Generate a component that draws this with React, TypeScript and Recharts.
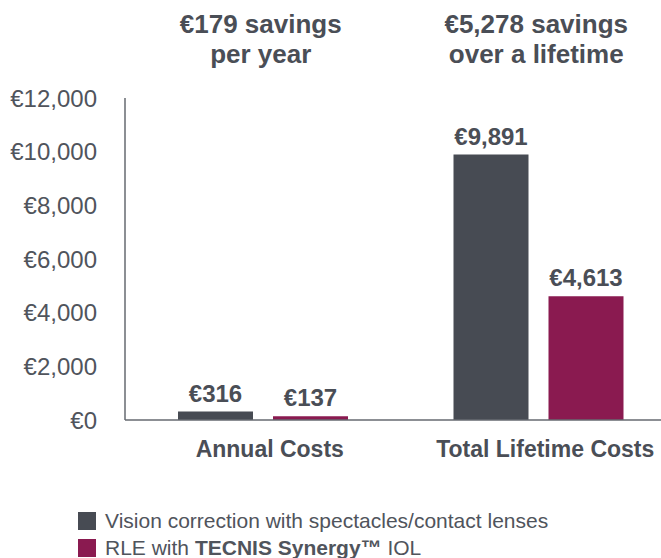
import { BarChart, Bar, XAxis, YAxis, LabelList } from "recharts";

const categories = ["Annual Costs", "Total Lifetime Costs"];
const savingsTitles = [
  ["€179 savings", "per year"],
  ["€5,278 savings", "over a lifetime"],
];
const spectaclesCosts = [316, 9891];
const tecnisCosts = [137, 4613];
const yTicks = [0, 2000, 4000, 6000, 8000, 10000, 12000];

const series = [
  { key: "spectacles", color: "#474b53", label: [{ text: "Vision correction with spectacles/contact lenses", bold: false }] },
  {
    key: "tecnis",
    color: "#8a1a50",
    label: [
      { text: "RLE with ", bold: false },
      { text: "TECNIS Synergy™", bold: true },
      { text: " IOL", bold: false },
    ],
  },
];

const data = categories.map((category, i) => ({
  category,
  title: i,
  spectacles: spectaclesCosts[i],
  tecnis: tecnisCosts[i],
}));

const FONT = '"Liberation Sans", Arial, sans-serif';
const TEXT = "#4a4e56";
const AXIS = "#666a70";

const euro = (v: number) => "€" + Number(v).toLocaleString("en-US");

function BottomTick({ x, y, payload }: any) {
  return (
    <text x={x + 7} y={y + 37} textAnchor="middle" fontSize={23} fontWeight={700} fill={TEXT} fontFamily={FONT}>
      {payload.value}
    </text>
  );
}

function TopTick({ x, y, payload }: any) {
  const lines = savingsTitles[payload.value];
  return (
    <text x={x - 2} y={y} textAnchor="middle" fontSize={26} fontWeight={700} fill={TEXT} fontFamily={FONT}>
      <tspan x={x - 2} y={y - 65}>{lines[0]}</tspan>
      <tspan x={x - 2} y={y - 35}>{lines[1]}</tspan>
    </text>
  );
}

export default function App() {
  return (
    <div style={{ position: "absolute", left: 0, top: 0, width: 661, height: 558, overflow: "hidden", background: "#fff", fontFamily: FONT }}>
      <BarChart
        width={676}
        height={558}
        data={data}
        margin={{ top: 0, right: 0, bottom: 98, left: 0 }}
        barSize={75}
        barGap={20}
      >
        <XAxis
          dataKey="category"
          axisLine={{ stroke: AXIS, strokeWidth: 1.5 }}
          tickLine={false}
          tickSize={0}
          tickMargin={0}
          height={40}
          tick={<BottomTick />}
          interval={0}
        />
        <XAxis
          xAxisId="top"
          orientation="top"
          dataKey="title"
          axisLine={false}
          tickLine={false}
          tickSize={0}
          tickMargin={0}
          height={98}
          tick={<TopTick />}
          interval={0}
        />
        <YAxis
          domain={[0, 12000]}
          ticks={yTicks}
          width={125}
          axisLine={{ stroke: AXIS, strokeWidth: 1.5 }}
          tickLine={false}
          tickSize={0}
          tickMargin={28}
          tickFormatter={euro}
          tick={{ fontSize: 24, fill: "#50545c", fontFamily: FONT }}
          interval={0}
        />
        {series.map((s) => (
          <Bar key={s.key} dataKey={s.key} fill={s.color} isAnimationActive={false}>
            <LabelList
              dataKey={s.key}
              position="top"
              offset={10}
              formatter={(v: any) => euro(v)}
              style={{ fontSize: 24, fontWeight: 700, fill: TEXT, fontFamily: FONT }}
            />
          </Bar>
        ))}
      </BarChart>
      <div style={{ position: "absolute", left: 78, top: 507 }}>
        {series.map((s) => (
          <div key={s.key} style={{ display: "flex", alignItems: "center", height: 27, fontSize: 21, color: "#50545c" }}>
            <span style={{ width: 18, height: 18, background: s.color, marginRight: 9, flexShrink: 0 }} />
            <span style={{ whiteSpace: "nowrap" }}>
              {s.label.map((part, i) => (
                <span key={i} style={{ fontWeight: part.bold ? 700 : 400 }}>{part.text}</span>
              ))}
            </span>
          </div>
        ))}
      </div>
    </div>
  );
}
